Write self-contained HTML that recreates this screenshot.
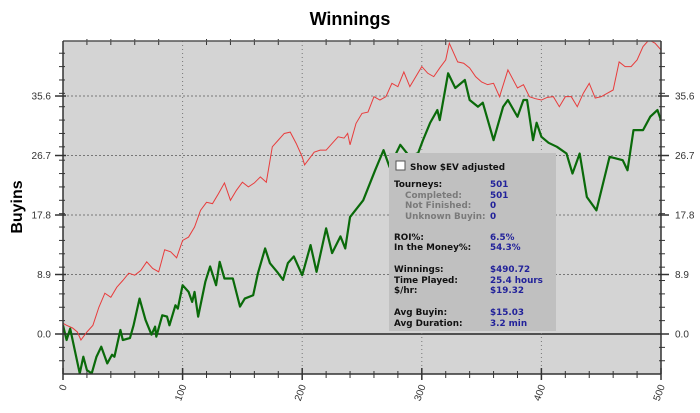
<!DOCTYPE html>
<html><head><meta charset="utf-8"><style>
body{margin:0;background:#fff;width:700px;height:413px;overflow:hidden}
svg{display:block}
.t{font-family:"Liberation Sans",sans-serif;font-size:10px;fill:#333}
.ib{font-family:"DejaVu Sans",sans-serif;font-size:8.8px;font-weight:bold}
</style></head><body>
<svg id="chart" width="700" height="413">
<text x="350" y="25" text-anchor="middle" font-family="Liberation Sans,sans-serif" font-weight="bold" font-size="18">Winnings</text>
<text transform="translate(22,207) rotate(-90)" text-anchor="middle" font-family="Liberation Sans,sans-serif" font-weight="bold" font-size="16">Buyins</text>
<defs><clipPath id="pc"><rect x="63" y="41" width="598" height="333"/></clipPath></defs>
<rect x="63" y="41" width="598" height="333" fill="#d4d4d4"/>
<g id="grid"></g>
<g id="series" clip-path="url(#pc)"></g>
<g id="axes"></g>
<g>
<rect x="389" y="153" width="167" height="178" fill="#c0c0c0"/>
<rect x="396" y="161" width="9" height="9" fill="#fff" stroke="#555"/>
<text class="ib" x="410" y="170" fill="#111">Show $EV adjusted</text>
<g class="ib" fill="#111">
<text x="394" y="187">Tourneys:</text>
<text x="405" y="198" fill="#7a7a7a">Completed:</text>
<text x="405" y="208" fill="#7a7a7a">Not Finished:</text>
<text x="405" y="219" fill="#7a7a7a">Unknown Buyin:</text>
<text x="394" y="240">ROI%:</text>
<text x="394" y="250">In the Money%:</text>
<text x="394" y="272">Winnings:</text>
<text x="394" y="283">Time Played:</text>
<text x="394" y="293">$/hr:</text>
<text x="394" y="315">Avg Buyin:</text>
<text x="394" y="326">Avg Duration:</text>
</g>
<g class="ib" fill="#22229a">
<text x="490" y="187">501</text>
<text x="490" y="198">501</text>
<text x="490" y="208">0</text>
<text x="490" y="219">0</text>
<text x="490" y="240">6.5%</text>
<text x="490" y="250">54.3%</text>
<text x="490" y="272">$490.72</text>
<text x="490" y="283">25.4 hours</text>
<text x="490" y="293">$19.32</text>
<text x="490" y="315">$15.03</text>
<text x="490" y="326">3.2 min</text>
</g>
</g>
</svg>
<script>
const xTicks=[0,100,200,300,400,500];
const yTicks=[0.0,8.9,17.8,26.7,35.6];
const greenT=[0,3,6,14,17,20,24,28,32,37,41,43,48,50,56,59,64,69,74,77,78,83,87,89,94,96,100,105,108,110,113,119,123,128,131,135,142,148,152,159,163,169,173,179,184,188,193,200,207,212,220,225,232,236,240,251,261,268,273,282,290,297,301,307,313,315,322,328,334,336,340,347,351,360,368,372,380,385,388,393,396,400,406,413,421,426,432,438,446,457,468,472,477,485,491,497,500];
const greenV=[1.3,-0.9,0.8,-5.9,-3.4,-5.4,-5.9,-3.4,-1.9,-4.4,-3.1,-3.4,0.6,-0.9,-0.6,1.3,5.3,2.1,-0.1,1.1,-0.4,2.8,2.6,1.3,4.3,3.8,7.3,6.3,4.8,6.3,2.6,7.8,10.1,7.3,10.8,8.3,8.3,4.1,5.3,5.8,9.1,12.8,10.6,9.3,8.1,10.6,11.6,8.8,13.3,9.3,15.8,12.1,14.6,12.8,17.5,20,24.5,27.5,25,28.3,26.5,27.1,29,31.6,33.5,32,39,36.8,37.7,38,35,34,34.6,29,34,35,32.5,35,35,29,31.6,29.5,28.6,28,27,24,27,20.5,18.5,26.5,26,24.5,30.5,30.5,32.5,33.5,32];
const redT=[0,3,8,12,15,20,25,30,35,40,45,50,55,60,65,70,75,80,85,90,95,100,105,110,115,120,125,130,135,140,145,150,155,160,165,170,175,180,185,190,195,200,202,210,215,220,225,230,235,238,240,245,250,255,260,265,270,275,280,285,290,295,300,305,310,315,320,323,330,335,340,345,350,355,360,365,372,380,385,390,395,400,405,410,415,420,425,430,435,440,445,450,455,460,465,470,475,480,485,490,495,500];
const redV=[1.6,1.3,0.9,0.3,-0.9,0.3,1.3,4,6.1,5.5,7,8,9.1,8.8,9.5,10.8,9.8,9.3,12.6,12.3,11.4,14,14.5,16,18.5,19.7,19.5,21,22.6,20,21.5,22.7,22,22.6,23.5,22.7,28,29,30,30.2,28.5,26.5,25.3,27.2,27.5,27.5,28.5,29.5,29.3,30,28.3,31.5,33,33.2,35.5,35,35.5,37.5,37,39.2,37,38.5,40,39,38.5,39.8,41,43.5,40.7,40.5,39.8,38.5,37.7,37.3,37.5,35.5,39.5,36.8,37.3,35.5,35.2,35,35.4,35.5,34,35.5,35.5,34,36,37.5,35.3,35.5,36,36.5,40.7,40,40,41,43,44,43.5,42.5];
const NS='http://www.w3.org/2000/svg';
const L=63,R=661,T=41,B=374;
const xS=t=>L+t*(R-L)/500;
const yS=v=>334-v*6.685;
function mk(tag,a,parent){const e=document.createElementNS(NS,tag);for(const k in a)e.setAttribute(k,a[k]);parent.appendChild(e);return e;}
const grid=document.getElementById('grid'),axes=document.getElementById('axes'),ser=document.getElementById('series');
yTicks.forEach(v=>{const y=yS(v);
 const g=mk('line',{x1:L,x2:R,y1:y,y2:y,stroke:v===0?'#000':'#777','stroke-dasharray':v===0?'':'2,2','stroke-width':v===0?1.2:1},grid);
 
 
 const a=mk('text',{x:L-12,y:y+3.5,'text-anchor':'end',class:'t'},axes);a.textContent=v.toFixed(1);
 
 
 const b=mk('text',{x:R+14,y:y+3.5,class:'t'},axes);b.textContent=v.toFixed(1);
 
 
 mk('line',{x1:L-8,x2:L+3,y1:y,y2:y,stroke:'#333','stroke-width':1.5},axes);
 mk('line',{x1:R-3,x2:R+8,y1:y,y2:y,stroke:'#333','stroke-width':1.5},axes);
});
xTicks.forEach(t=>{const x=xS(t);
 if(t>0&&t<500){const g=mk('line',{x1:x,x2:x,y1:T,y2:B,stroke:'#777','stroke-dasharray':'1,3'},grid);
 
 }
 const a=mk('text',{x:0,y:0,'text-anchor':'end',class:'t',transform:`translate(${x+4},${B+12}) rotate(-70)`},axes);a.textContent=t;
 
 
 mk('line',{x1:x,x2:x,y1:B-6,y2:B+6,stroke:'#333','stroke-width':1.5},axes);
});
for(let t=20;t<500;t+=20){if(t%100===0)continue;const x=xS(t);
 mk('line',{x1:x,x2:x,y1:B-3,y2:B+4,stroke:'#333'},axes);
 mk('line',{x1:x,x2:x,y1:T-2,y2:T+4,stroke:'#333'},axes);}
for(let v=-6;v<=44;v+=2){const y=yS(v);if(y<T||y>B)continue;
 mk('line',{x1:L-4,x2:L+2,y1:y,y2:y,stroke:'#333'},axes);
 mk('line',{x1:R-2,x2:R+4,y1:y,y2:y,stroke:'#333'},axes);}
mk('line',{x1:L,x2:R,y1:T,y2:T,stroke:'#555','stroke-width':1.5},axes);
mk('line',{x1:L,x2:R,y1:B,y2:B,stroke:'#333','stroke-width':1.5},axes);
mk('line',{x1:L,x2:L,y1:T,y2:B,stroke:'#333','stroke-width':1.5},axes);
mk('line',{x1:R,x2:R,y1:T,y2:B,stroke:'#333','stroke-width':1.5},axes);
const rp=mk('polyline',{points:redT.map((t,i)=>xS(t)+','+yS(redV[i])).join(' '),fill:'none',stroke:'#e83c3c','stroke-width':1},ser);


const gp=mk('polyline',{points:greenT.map((t,i)=>xS(t)+','+yS(greenV[i])).join(' '),fill:'none',stroke:'#0a6a0a','stroke-width':2.2,'stroke-linejoin':'round'},ser);


</script>
</body></html>
